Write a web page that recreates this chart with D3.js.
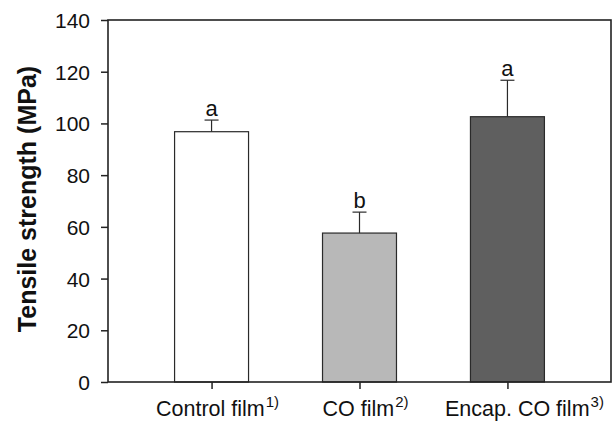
<!DOCTYPE html>
<html>
<head>
<meta charset="utf-8">
<script src="https://cdn.jsdelivr.net/npm/d3@7"></script>
<style>
  html, body { margin: 0; padding: 0; background: #fff; }
  svg { display: block; font-family: "Liberation Sans", Arial, sans-serif; }
</style>
</head>
<body>
<svg id="chart" width="614" height="421"></svg>
<script>
const categories = ["Control film", "CO film", "Encap. CO film"];
const superscripts = ["1)", "2)", "3)"];
const means = [96.8, 57.6, 102.6];
const errors = [4.5, 8.1, 14.1];
const letters = ["a", "b", "a"];
const fills = ["#ffffff", "#b8b8b8", "#5f5f5f"];
const yTicks = [0, 20, 40, 60, 80, 100, 120, 140];
const labelShift = [6, 6, 17];

const svg = d3.select("#chart");
const L = 108, R = 611, T = 20, B = 382;

const x = d3.scalePoint().domain(categories).range([L, R]).padding(0.7);
const y = d3.scaleLinear().domain([0, 140]).range([B, T]);
const bw = x.step() * 0.5;

const data = categories.map((c, i) => ({c, m: means[i], e: errors[i], l: letters[i], f: fills[i], s: superscripts[i], dx: labelShift[i]}));

// bars
svg.append("g").selectAll("rect").data(data).join("rect")
  .attr("x", d => x(d.c) - bw / 2)
  .attr("y", d => y(d.m))
  .attr("width", bw)
  .attr("height", d => y(0) - y(d.m))
  .attr("fill", d => d.f)
  .attr("stroke", "#2a2a2a")
  .attr("stroke-width", 1.2);

// error bars
const eg = svg.append("g").attr("stroke", "#2a2a2a").attr("stroke-width", 1.2);
eg.selectAll("line.v").data(data).join("line").attr("class", "v")
  .attr("x1", d => x(d.c)).attr("x2", d => x(d.c))
  .attr("y1", d => y(d.m)).attr("y2", d => y(d.m + d.e));
eg.selectAll("line.c").data(data).join("line").attr("class", "c")
  .attr("x1", d => x(d.c) - 7).attr("x2", d => x(d.c) + 7)
  .attr("y1", d => y(d.m + d.e)).attr("y2", d => y(d.m + d.e));

// letters
svg.append("g").selectAll("text").data(data).join("text")
  .attr("x", d => x(d.c))
  .attr("y", d => y(d.m + d.e) - 4.5)
  .attr("text-anchor", "middle")
  .attr("font-size", 22)
  .attr("fill", "#111")
  .text(d => d.l);

// frame
svg.append("rect").attr("x", L).attr("y", T).attr("width", R - L).attr("height", B - T)
  .attr("fill", "none").attr("stroke", "#222").attr("stroke-width", 1.6);

// y axis
const yAxis = svg.append("g").attr("transform", `translate(${L},0)`)
  .call(d3.axisLeft(y).tickValues(yTicks).tickSize(7).tickPadding(11));
yAxis.select(".domain").remove();
yAxis.selectAll(".tick line").attr("stroke", "#222").attr("stroke-width", 1.5);
yAxis.selectAll(".tick text").attr("font-size", 21).attr("fill", "#111")
  .attr("font-family", "Liberation Sans, Arial, sans-serif").attr("dy", "0.36em");

// x axis ticks
const xAxis = svg.append("g").attr("transform", `translate(0,${B})`)
  .call(d3.axisBottom(x).tickSize(7).tickFormat(""));
xAxis.select(".domain").remove();
xAxis.selectAll(".tick line").attr("stroke", "#222").attr("stroke-width", 1.5);

// x labels
const xl = svg.append("g").selectAll("text").data(data).join("text")
  .attr("x", d => x(d.c) + d.dx)
  .attr("y", 416)
  .attr("text-anchor", "middle")
  .attr("font-size", 21.5)
  .attr("fill", "#111");
xl.append("tspan").text(d => d.c);
xl.append("tspan").attr("font-size", 15).attr("dy", -9).attr("dx", 1).text(d => d.s);

// y title
svg.append("text")
  .attr("transform", `translate(36,199) rotate(-90)`)
  .attr("text-anchor", "middle")
  .attr("font-size", 25)
  .attr("font-weight", "bold")
  .attr("fill", "#111")
  .text("Tensile strength (MPa)");
</script>
</body>
</html>
